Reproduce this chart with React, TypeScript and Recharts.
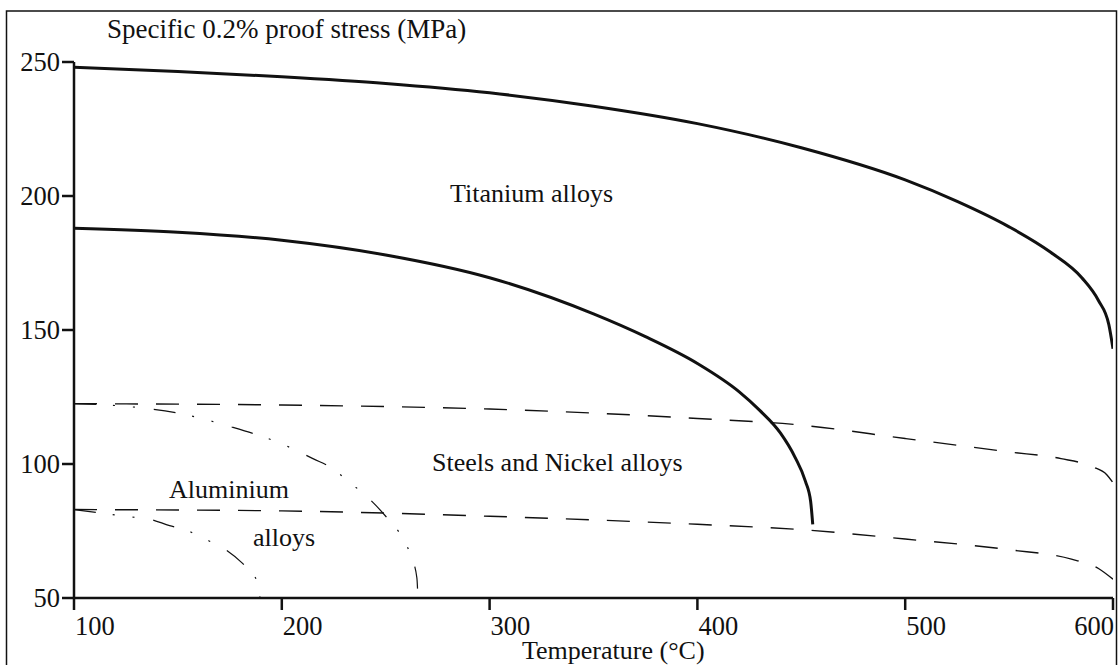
import { LineChart, Line, XAxis, YAxis } from 'recharts'

/* ── Data ──────────────────────────────────────────────────────────── */

const X_TICKS = [100, 200, 300, 400, 500, 600]
const Y_TICKS = [50, 100, 150, 200, 250]

// Titanium alloys, upper bound
const TI_HIGH_T = [100, 150, 200, 250, 300, 350, 400, 450, 500, 525, 550, 570, 585, 593, 598, 600]
const TI_HIGH_S = [248, 246.5, 244.5, 242, 238.5, 233.5, 227, 218, 206, 198, 188.5, 179, 169.5, 161, 152, 143]

// Titanium alloys, lower bound
const TI_LOW_T = [100, 150, 200, 250, 300, 350, 375, 400, 420, 430, 440, 447, 452, 454.5, 455.5]
const TI_LOW_S = [188, 186.5, 183.5, 178, 169.5, 156, 147.5, 137.5, 127, 120, 111.5, 102.5, 93.5, 86, 77.5]

// Steels and nickel alloys (dashed)
const STEEL_HIGH_T = [100, 200, 300, 400, 450, 500, 550, 575, 590, 597, 600]
const STEEL_HIGH_S = [122.5, 122, 120.5, 117, 114.5, 109.5, 104.5, 102, 99, 96, 93]
const STEEL_LOW_T = [100, 200, 300, 400, 450, 500, 550, 580, 593, 600]
const STEEL_LOW_S = [83, 82.5, 80.5, 77.5, 75.5, 72, 68, 64.5, 61, 57]

// Aluminium alloys (dash-dot)
const AL_HIGH_T = [100, 125, 150, 175, 200, 215, 225, 232, 240, 250, 258, 262.5, 265, 265.5]
const AL_HIGH_S = [122.5, 121.5, 119, 114, 107.5, 102, 98, 93.5, 88.5, 80.5, 72.5, 65, 57.5, 50]
const AL_LOW_T = [100, 115, 127, 136, 146, 155, 165, 173, 181, 186, 188.5, 189.5]
const AL_LOW_S = [83, 81.5, 80.3, 79.5, 77, 75, 71.3, 68, 63, 59, 55, 50]

const zip = (t: number[], s: number[]) => t.map((x, i) => ({ t: x, s: s[i] }))

/* ── Styling ───────────────────────────────────────────────────────── */

const W = 1119
const H = 665
const FONT = '"Liberation Serif", "Times New Roman", serif'
const INK = '#111'

function XTick({ x, y, payload }: any) {
  const last = payload.value === 600
  return (
    <text x={x + 1} y={y + 23} textAnchor={last ? 'end' : 'start'} fontFamily={FONT} fontSize={26.5} fill={INK}>
      {payload.value}
    </text>
  )
}

function YTick({ x, y, payload }: any) {
  return (
    <text x={x} y={y + 9} textAnchor="end" fontFamily={FONT} fontSize={26.5} fill={INK}>
      {payload.value}
    </text>
  )
}

export default function App() {
  const series = [
    { key: 'tiHigh', data: zip(TI_HIGH_T, TI_HIGH_S), width: 3, dash: undefined },
    { key: 'tiLow', data: zip(TI_LOW_T, TI_LOW_S), width: 3, dash: undefined },
    { key: 'steelHigh', data: zip(STEEL_HIGH_T, STEEL_HIGH_S), width: 1.4, dash: '23 18' },
    { key: 'steelLow', data: zip(STEEL_LOW_T, STEEL_LOW_S), width: 1.4, dash: '23 18' },
    { key: 'alHigh', data: zip(AL_HIGH_T, AL_HIGH_S), width: 1.2, dash: '22 17 2 18 2 19' },
    { key: 'alLow', data: zip(AL_LOW_T, AL_LOW_S), width: 1.2, dash: '22 17 2 18 2 19' },
  ]

  return (
    <div style={{ position: 'absolute', left: 0, top: 0, width: W, height: H, background: '#fff' }}>
      <LineChart width={W} height={H} margin={{ top: 62, right: 6, bottom: 0, left: 0 }}>
        <XAxis
          type="number"
          dataKey="t"
          domain={[100, 600]}
          ticks={X_TICKS}
          height={67}
          allowDataOverflow
          stroke={INK}
          strokeWidth={2.5}
          tickSize={12}
          tickMargin={2}
          tickLine={{ stroke: INK, strokeWidth: 2.5 }}
          tick={<XTick />}
          interval={0}
        />
        <YAxis
          type="number"
          dataKey="s"
          domain={[50, 250]}
          ticks={Y_TICKS}
          width={74}
          allowDataOverflow
          stroke={INK}
          strokeWidth={2.5}
          tickSize={12}
          tickMargin={2}
          tickLine={{ stroke: INK, strokeWidth: 2.5 }}
          tick={<YTick />}
          interval={0}
        />
        {series.map((sr) => (
          <Line
            key={sr.key}
            data={sr.data}
            dataKey="s"
            type="monotone"
            stroke={INK}
            strokeWidth={sr.width}
            strokeDasharray={sr.dash}
            dot={false}
            activeDot={false}
            isAnimationActive={false}
          />
        ))}
      </LineChart>

      {/* Frame and annotations */}
      <svg width={W} height={H} style={{ position: 'absolute', left: 0, top: 0, pointerEvents: 'none' }}>
        <rect x={6.5} y={11} width={1110} height={662} fill="none" stroke={INK} strokeWidth={1.5} />
        <g fontFamily={FONT} fill={INK}>
          <text x={107} y={38} fontSize={27}>Specific 0.2% proof stress (MPa)</text>
          <text x={450} y={202} fontSize={26}>Titanium alloys</text>
          <text x={432} y={471} fontSize={26}>Steels and Nickel alloys</text>
          <text x={169} y={498} fontSize={26}>Aluminium</text>
          <text x={253} y={546} fontSize={26}>alloys</text>
          <text x={522} y={659} fontSize={26}>Temperature (°C)</text>
        </g>
      </svg>
    </div>
  )
}
